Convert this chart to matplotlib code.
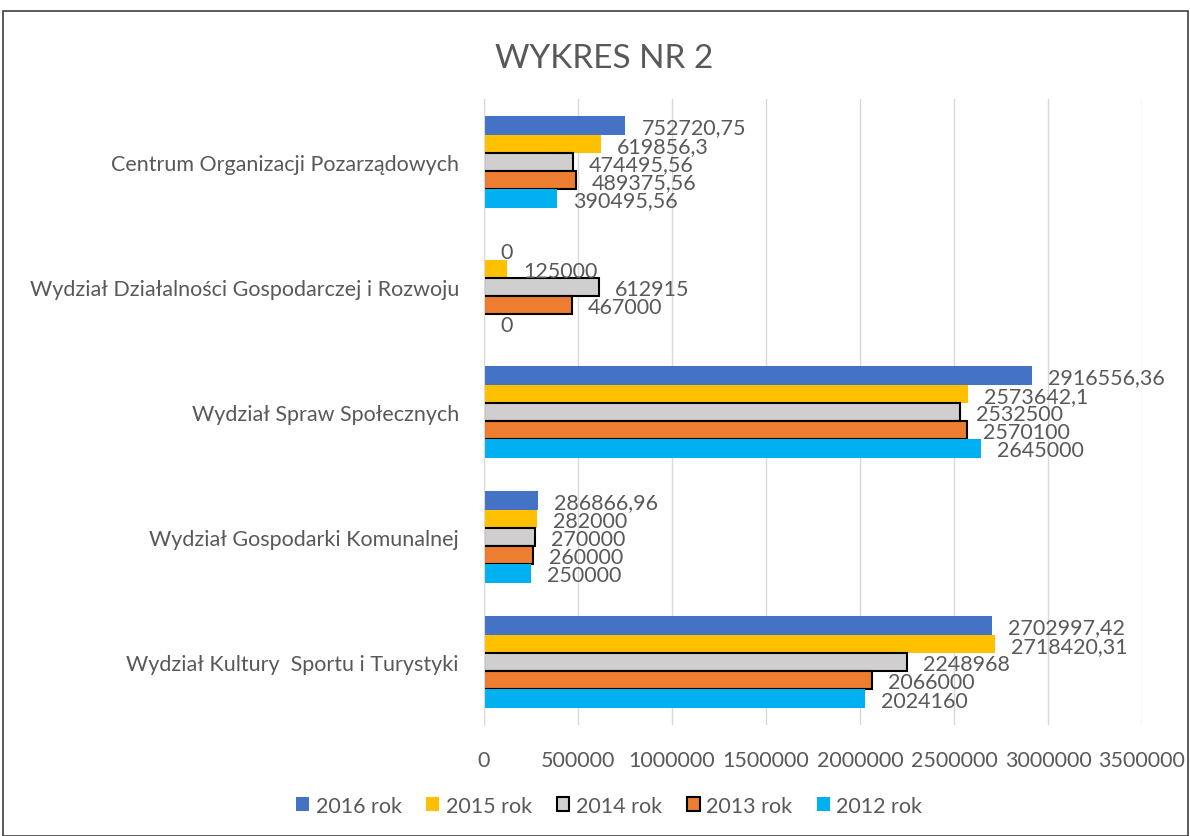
import numpy as np
import matplotlib
matplotlib.use('Agg')
import matplotlib.pyplot as plt
from matplotlib.patches import Rectangle

plt.rcParams['font.family'] = ['Lato', 'Open Sans', 'DejaVu Sans']

# Categories top to bottom as in the picture
categories = ['Centrum Organizacji Pozarządowych',
              'Wydział Działalności Gospodarczej i Rozwoju',
              'Wydział Spraw Społecznych',
              'Wydział Gospodarki Komunalnej',
              'Wydział Kultury  Sportu i Turystyki']

series = ['2016 rok', '2015 rok', '2014 rok', '2013 rok', '2012 rok']
v2016 = [752720.75, 0, 2916556.36, 286866.96, 2702997.42]
v2015 = [619856.3, 125000, 2573642.1, 282000, 2718420.31]
v2014 = [474495.56, 612915, 2532500, 270000, 2248968]
v2013 = [489375.56, 467000, 2570100, 260000, 2066000]
v2012 = [390495.56, 0, 2645000, 250000, 2024160]

colors = ['#4472C4', '#FFC000', '#D0CECE', '#ED7D31', '#00B0F0']
edges = [None, None, 'black', 'black', None]
values = [v2016, v2015, v2014, v2013, v2012]


def fmt(v):
    if v == int(v):
        return str(int(v))
    return ('%.2f' % v).rstrip('0').replace('.', ',')


grey = '#595959'
fig = plt.figure(figsize=(11.9, 8.37), dpi=100)
ax = fig.add_axes([0.4067, 0.1332, 0.9597 - 0.4067, 0.8800 - 0.1332])

n = len(categories)
y = np.arange(n)  # 0 at top after inverting
group = 0.73
h = group / len(series)
for i, (name, vals) in enumerate(zip(series, values)):
    pos = y - group / 2 + h * (i + 0.5)
    if edges[i]:
        bars = ax.barh(pos, vals, height=h, color=colors[i], edgecolor=edges[i],
                       linewidth=1.5, label=name)
    else:
        bars = ax.barh(pos, vals, height=h, color=colors[i], label=name)
    for b, v in zip(bars, vals):
        ax.annotate(fmt(v), (v, b.get_y() + b.get_height() / 2),
                    xytext=(16, -2), textcoords='offset pixels',
                    va='center', ha='left', fontsize=15.5, color=grey)

ax.set_ylim(n - 0.5, -0.5)
ax.set_yticks(y)
ax.set_yticklabels(categories, fontsize=15.5, color=grey)
ax.set_xlim(0, 3500000)
ax.set_xticks(np.arange(0, 3500001, 500000))
ax.set_xticklabels([str(t) for t in range(0, 3500001, 500000)], fontsize=15.5, color=grey)
ax.tick_params(axis='both', length=0)
ax.tick_params(axis='x', pad=18)
ax.tick_params(axis='y', pad=18)
ax.grid(axis='x', color='#D9D9D9', linewidth=1)
ax.set_axisbelow(True)
for s in ['top', 'right', 'bottom']:
    ax.spines[s].set_visible(False)
ax.spines['left'].set_color('#D9D9D9')

fig.suptitle('WYKRES NR 2', x=0.508, y=0.947, fontsize=24, color=grey)

leg = fig.legend(loc='center', bbox_to_anchor=(0.512, 0.036), ncol=5, frameon=False,
                 fontsize=15.5, handlelength=0.6, handleheight=0.6, columnspacing=1.15,
                 handletextpad=0.3)
for t in leg.get_texts():
    t.set_color(grey)

fig.patches.append(Rectangle((3 / 1190, 0), 1 - 5 / 1190, 1 - 12 / 837, transform=fig.transFigure,
                             fill=False, edgecolor='#404040', linewidth=1.2))

fig.savefig('out.png', dpi=100)
